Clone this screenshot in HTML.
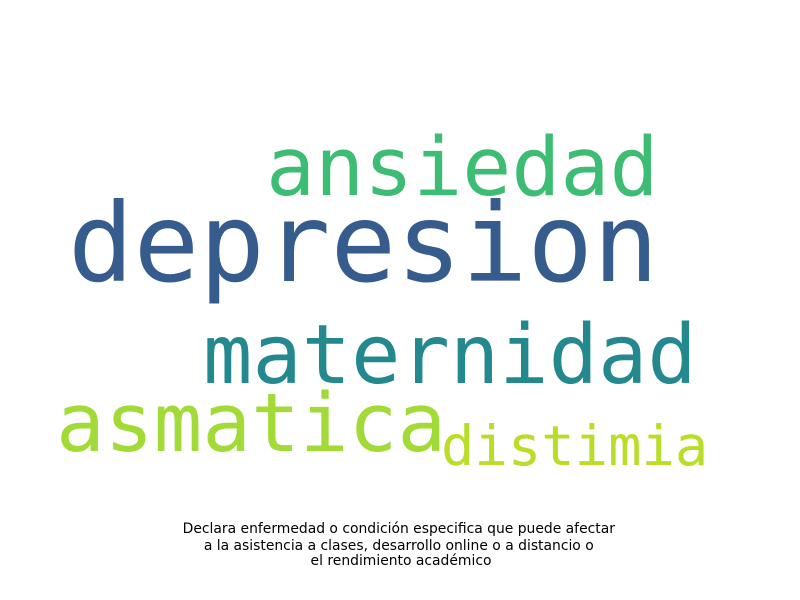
<!DOCTYPE html>
<html><head><meta charset="utf-8"><style>
html,body{margin:0;padding:0;background:#fff;width:800px;height:600px;overflow:hidden}
svg{display:block}
</style></head><body>
<svg id="cloud" width="800" height="600" viewBox="0 0 800 600">
<g id="words"></g>
<text x="401" y="533" text-anchor="middle" font-family="DejaVu Sans, Liberation Sans, sans-serif" font-size="13.9" fill="#000">
<tspan x="401" y="533">Declara enfermedad o condición especifica que puede afectar</tspan>
<tspan x="401" y="550">a la asistencia a clases, desarrollo online o a distancio o</tspan>
<tspan x="401" y="565">el rendimiento académico</tspan>
</text>
</svg>
<script>
const words = ["depresion","ansiedad","maternidad","asmatica","distimia"];
const weights = [109, 81.5, 82, 81, 55.5];
const colors = ["#365c8d","#3dbc74","#23898e","#a2da37","#b8de29"];
const anchorX = [68, 266, 203, 56, 441];
const baseY = [281, 195, 383, 451, 465];
const g = document.getElementById('words');
const NS = "http://www.w3.org/2000/svg";
for (let i = 0; i < words.length; i++) {
  const t = document.createElementNS(NS, 'text');
  
  
  t.setAttribute('x', anchorX[i]);
  t.setAttribute('y', baseY[i]);
  t.setAttribute('font-family', 'DejaVu Sans Mono, Liberation Mono, monospace');
  t.setAttribute('font-size', weights[i]);
  t.setAttribute('fill', colors[i]);
  t.textContent = words[i];
  g.appendChild(t);
}
</script>
</body></html>
